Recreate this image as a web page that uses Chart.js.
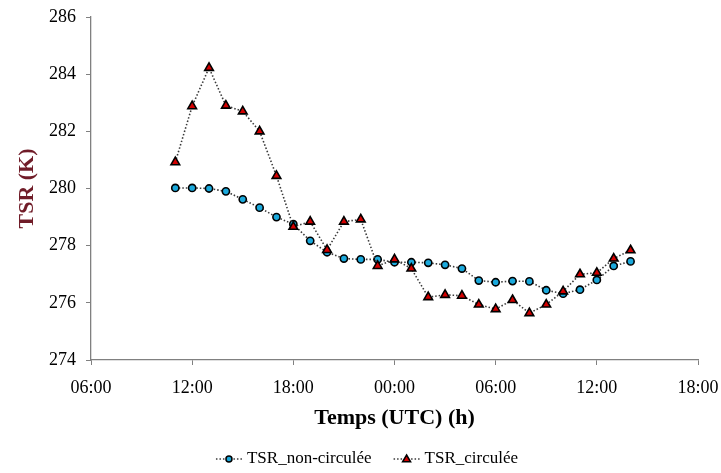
<!DOCTYPE html>
<html>
<head>
<meta charset="utf-8">
<script src="https://cdn.jsdelivr.net/npm/chart.js@4/dist/chart.umd.min.js"></script>
<style>
  html, body { margin: 0; padding: 0; background: #fff; }
  #wrap { width: 721px; height: 473px; position: relative; }
</style>
</head>
<body>
<div id="wrap"><canvas id="tsrChart"></canvas></div>
<script>
// hours since 00:00 of day 1 (11:00 day 1 -> 14:00 day 2)
const hours = [11, 12, 13, 14, 15, 16, 17, 18, 19, 20, 21, 22, 23, 24,
               25, 26, 27, 28, 29, 30, 31, 32, 33, 34, 35, 36, 37, 38];
const tsrNonCirculee = [280.02, 280.02, 280.0, 279.9, 279.62, 279.33, 279.0, 278.75, 278.17, 277.77,
                        277.55, 277.52, 277.52, 277.42, 277.42, 277.4, 277.33, 277.2, 276.78, 276.72,
                        276.76, 276.75, 276.44, 276.32, 276.46, 276.8, 277.29, 277.45];
const tsrCirculee = [280.92, 282.88, 284.22, 282.9, 282.7, 282.0, 280.44, 278.66, 278.84, 277.85,
                     278.84, 278.92, 277.29, 277.52, 277.2, 276.2, 276.28, 276.25, 275.94, 275.78,
                     276.1, 275.64, 275.94, 276.4, 277.0, 277.05, 277.55, 277.84];
const seriesNames = ['TSR_non-circulée', 'TSR_circulée'];
const xTicks = [6, 12, 18, 24, 30, 36, 42];

(function(){
    const serif = "'Liberation Serif', 'DejaVu Serif', serif";
    const lineColor = '#3a3a3a';

    function toPoints(values) {
        return values.map(function(v, i) { return { x: hours[i], y: v }; });
    }

    // dotted line + marker + text legend under the x title
    const bottomLegend = {
        id: 'bottomLegend',
        afterDraw: function(chart) {
            const ctx = chart.ctx;
            const y = 459;
            const lineW = 26, gapText = 5, gapItem = 22;
            ctx.save();
            ctx.font = '17px ' + serif;
            const items = chart.data.datasets.map(function(ds) {
                return { ds: ds, w: lineW + gapText + ctx.measureText(ds.label).width };
            });
            const total = items.reduce(function(s, it) { return s + it.w; }, 0) + gapItem * (items.length - 1);
            let x = 367 - total / 2;
            items.forEach(function(it) {
                const ds = it.ds;
                ctx.strokeStyle = lineColor;
                ctx.lineWidth = 1.6;
                ctx.setLineDash([1.5, 2]);
                ctx.beginPath();
                ctx.moveTo(x, y);
                ctx.lineTo(x + lineW, y);
                ctx.stroke();
                ctx.setLineDash([]);
                const cx = x + lineW / 2;
                ctx.fillStyle = ds.pointBackgroundColor;
                ctx.strokeStyle = '#000';
                ctx.lineWidth = 1.5;
                ctx.beginPath();
                if (ds.pointStyle === 'triangle') {
                    const r = 4;
                    ctx.moveTo(cx, y - r);
                    ctx.lineTo(cx + r, y + r * 0.7);
                    ctx.lineTo(cx - r, y + r * 0.7);
                    ctx.closePath();
                } else {
                    ctx.arc(cx, y, 3, 0, Math.PI * 2);
                }
                ctx.fill();
                ctx.stroke();
                ctx.fillStyle = '#000';
                ctx.textBaseline = 'middle';
                ctx.textAlign = 'left';
                ctx.fillText(ds.label, x + lineW + gapText, y);
                x += it.w + gapItem;
            });
            ctx.restore();
        }
    };

    const ctx = document.getElementById('tsrChart');
    new Chart(ctx, {
        type: 'line',
        data: {
            datasets: [{
                label: seriesNames[0],
                data: toPoints(tsrNonCirculee),
                borderColor: lineColor,
                borderWidth: 1.6,
                borderDash: [1.5, 2],
                pointStyle: 'circle',
                pointRadius: 3.6,
                pointBorderWidth: 1.6,
                pointBorderColor: '#000',
                pointBackgroundColor: '#1ba9dc',
                tension: 0,
                order: 2
            }, {
                label: seriesNames[1],
                data: toPoints(tsrCirculee),
                borderColor: lineColor,
                borderWidth: 1.6,
                borderDash: [1.5, 2],
                pointStyle: 'triangle',
                pointRadius: 5,
                pointBorderWidth: 1.6,
                pointBorderColor: '#000',
                pointBackgroundColor: '#d40000',
                tension: 0,
                order: 1
            }]
        },
        options: {
            responsive: true,
            maintainAspectRatio: false,
            animation: false,
            layout: { padding: { top: 17, right: 23, left: 0, bottom: 41 } },
            plugins: {
                legend: { display: false },
                tooltip: { enabled: false }
            },
            scales: {
                x: {
                    type: 'linear',
                    min: 6,
                    max: 42,
                    afterBuildTicks: function(scale) {
                        scale.ticks = xTicks.map(function(v) { return { value: v }; });
                    },
                    afterFit: function(scale) {
                        scale.height = 72;
                        scale.paddingLeft = 0;
                        scale.paddingRight = 0;
                    },
                    ticks: {
                        color: '#000',
                        font: { family: serif, size: 18 },
                        padding: 12,
                        maxRotation: 0,
                        callback: function(v) {
                            const h = v % 24;
                            return (h < 10 ? '0' : '') + h + ':00';
                        }
                    },
                    grid: {
                        drawOnChartArea: false,
                        drawTicks: true,
                        tickLength: 5,
                        color: '#808080'
                    },
                    border: { display: true, color: '#808080', width: 1.3 },
                    title: {
                        display: true,
                        text: 'Temps (UTC) (h)',
                        color: '#000',
                        font: { family: serif, size: 22, weight: 'bold' },
                        padding: { top: 8, bottom: 0 }
                    }
                },
                y: {
                    min: 274,
                    max: 286,
                    afterFit: function(scale) {
                        scale.width = 91;
                        scale.paddingTop = 0;
                        scale.paddingBottom = 0;
                    },
                    ticks: {
                        stepSize: 2,
                        color: '#000',
                        font: { family: serif, size: 18 },
                        padding: 10
                    },
                    grid: {
                        drawOnChartArea: false,
                        drawTicks: true,
                        tickLength: 5,
                        color: '#808080'
                    },
                    border: { display: true, color: '#808080', width: 1.3 },
                    title: {
                        display: true,
                        text: 'TSR (K)',
                        color: '#701c28',
                        font: { family: serif, size: 22, weight: 'bold' },
                        padding: { top: 14, bottom: 0 }
                    }
                }
            }
        },
        plugins: [bottomLegend]
    });
})();
</script>
</body>
</html>
